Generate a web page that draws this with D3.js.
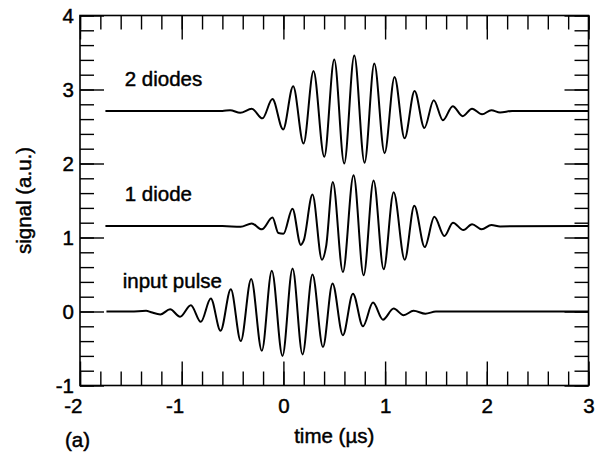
<!DOCTYPE html>
<html lang="en">
<head>
  <meta charset="UTF-8" />
  <title>signal vs time</title>
  <script src="https://d3js.org/d3.v7.min.js"></script>
  <style>
    body {
      margin: 0;
      background-color: #fff;
    }
    svg {
      display: block;
      font-family: "Liberation Sans", Arial, sans-serif;
    }
    svg text { stroke: #000; stroke-width: 0.45; }
    .axis path { display: none; }
    .axis line { stroke: #000; stroke-width: 1.4; }
    .axis text { font-size: 20.5px; fill: #000; font-family: "Liberation Sans", Arial, sans-serif; }
  </style>
</head>
<body>

<svg id="chart" width="600" height="454"></svg>

<script>
  // extrema: [time (µs), signal (a.u.)]
  const inputPulse = [
    [-1.74, 0], [-1.5, 0], [-1.35, 0.01], [-1.30, -0.01], [-1.21, -0.04],
    [-1.114, 0.03], [-1.016, -0.07], [-0.91, 0.085], [-0.812, -0.14],
    [-0.714, 0.175], [-0.618, -0.26], [-0.517, 0.30], [-0.419, -0.40],
    [-0.317, 0.44], [-0.212, -0.53], [-0.114, 0.55], [-0.009, -0.60],
    [0.09, 0.58], [0.188, -0.58], [0.286, 0.50], [0.389, -0.48],
    [0.483, 0.38], [0.585, -0.32], [0.684, 0.24], [0.782, -0.20],
    [0.881, 0.12], [0.979, -0.11], [1.084, 0.04], [1.182, -0.05],
    [1.28, 0.01], [1.396, -0.03], [1.5, 0], [3, 0]
  ];

  const oneDiode = [
    [-1.75, 1.155], [-0.6, 1.155], [-0.42, 1.145], [-0.311, 1.19], [-0.212, 1.11],
    [-0.107, 1.27], [-0.05, 1.06], [0.0, 1.05], [0.089, 1.39], [0.171, 0.90],
    [0.20, 0.96], [0.286, 1.58], [0.379, 0.70], [0.42, 0.88], [0.486, 1.75],
    [0.585, 0.535], [0.69, 1.84], [0.789, 0.49], [0.887, 1.77], [0.986, 0.57],
    [1.084, 1.61], [1.193, 0.70], [1.287, 1.43], [1.39, 0.87], [1.484, 1.28],
    [1.583, 1.02], [1.667, 1.20], [1.77, 1.10], [1.855, 1.18], [1.95, 1.11],
    [2.045, 1.17], [2.13, 1.15], [3, 1.155]
  ];

  const twoDiodes = [
    [-1.75, 2.71], [-0.6, 2.71], [-0.524, 2.72], [-0.425, 2.685], [-0.311, 2.74],
    [-0.206, 2.61], [-0.108, 2.87], [-0.003, 2.46], [0.096, 3.045], [0.198, 2.27],
    [0.296, 3.25], [0.402, 2.09], [0.50, 3.405], [0.598, 2.0], [0.697, 3.46],
    [0.798, 2.01], [0.894, 3.35], [0.995, 2.14], [1.093, 3.17], [1.192, 2.34],
    [1.29, 2.98], [1.386, 2.48], [1.478, 2.855], [1.569, 2.585], [1.665, 2.775],
    [1.763, 2.64], [1.855, 2.74], [1.953, 2.665], [2.045, 2.72], [2.13, 2.69],
    [2.25, 2.71], [3, 2.71]
  ];

  const curveLabels = ["2 diodes", "1 diode", "input pulse"];
  const labelPos = [[-1.56, 3.045], [-1.56, 1.50], [-1.58, 0.315]];

  const xMajor = [-2, -1, 0, 1, 2, 3];
  const yMajor = [-1, 0, 1, 2, 3, 4];
  const xMinor = d3.range(-2, 3.001, 0.2).map(d => +d.toFixed(1));
  const yMinor = d3.range(-1, 4.001, 0.2).map(d => +d.toFixed(1));

  const svg = d3.select("#chart");
  const width = +svg.attr("width");
  const height = +svg.attr("height");
  const margin = { top: 15.5, right: 11.5, bottom: 68.5, left: 80 };

  const x = d3.scaleLinear().domain([-2, 3]).range([margin.left, width - margin.right]);
  const y = d3.scaleLinear().domain([-1, 4]).range([height - margin.bottom, margin.top]);
  const plotW = width - margin.left - margin.right;
  const plotH = height - margin.top - margin.bottom;

  const tickFmt = d => d < 0 ? "-" + Math.abs(d) : String(d);

  // minor ticks, all four sides
  svg.append("g").attr("class", "axis")
    .attr("transform", `translate(0,${y(-1)})`)
    .call(d3.axisBottom(x).tickValues(xMinor).tickSize(-14).tickFormat(""));
  svg.append("g").attr("class", "axis")
    .attr("transform", `translate(0,${y(4)})`)
    .call(d3.axisTop(x).tickValues(xMinor).tickSize(-14).tickFormat(""));
  svg.append("g").attr("class", "axis")
    .attr("transform", `translate(${x(-2)},0)`)
    .call(d3.axisLeft(y).tickValues(yMinor).tickSize(-14).tickFormat(""));
  svg.append("g").attr("class", "axis")
    .attr("transform", `translate(${x(3)},0)`)
    .call(d3.axisRight(y).tickValues(yMinor).tickSize(-14).tickFormat(""));

  // major ticks with labels
  const xAxis = svg.append("g").attr("class", "axis")
    .attr("transform", `translate(0,${y(-1)})`)
    .call(d3.axisBottom(x).tickValues(xMajor).tickSize(-24).tickPadding(13).tickFormat(tickFmt));
  xAxis.selectAll("text")
    .attr("text-anchor", d => d < 0 ? "end" : "middle")
    .attr("dx", d => d < 0 ? 2 : 0);
  svg.append("g").attr("class", "axis")
    .attr("transform", `translate(0,${y(4)})`)
    .call(d3.axisTop(x).tickValues(xMajor).tickSize(-24).tickFormat(""));
  svg.append("g").attr("class", "axis")
    .attr("transform", `translate(${x(-2)},0)`)
    .call(d3.axisLeft(y).tickValues(yMajor).tickSize(-24).tickPadding(6).tickFormat(tickFmt))
    .selectAll("text").attr("dy", "0.32em");
  svg.append("g").attr("class", "axis")
    .attr("transform", `translate(${x(3)},0)`)
    .call(d3.axisRight(y).tickValues(yMajor).tickSize(-24).tickFormat(""));

  // frame
  svg.append("rect")
    .attr("x", margin.left)
    .attr("y", margin.top)
    .attr("width", plotW)
    .attr("height", plotH)
    .style("fill", "none")
    .style("stroke", "#000")
    .style("stroke-width", 1.6);

  const line = d3.line()
    .x(d => x(d[0]))
    .y(d => y(d[1]))
    .curve(d3.curveMonotoneX);

  svg.append("g")
    .selectAll("path")
    .data([twoDiodes, oneDiode, inputPulse])
    .enter().append("path")
    .attr("d", line)
    .style("fill", "none")
    .style("stroke", "#000")
    .style("stroke-width", 2)
    .style("stroke-linejoin", "round");

  svg.append("g")
    .selectAll("text")
    .data(curveLabels)
    .enter().append("text")
    .attr("x", (d, i) => x(labelPos[i][0]))
    .attr("y", (d, i) => y(labelPos[i][1]))
    .style("font-size", "20.5px")
    .text(d => d);

  // axis titles
  svg.append("text")
    .attr("x", x(0.5))
    .attr("y", 443)
    .attr("text-anchor", "middle")
    .style("font-size", "20.5px")
    .text("time (\u00b5s)");

  svg.append("text")
    .attr("transform", `translate(31,${y(1.5)}) rotate(-90)`)
    .attr("text-anchor", "middle")
    .style("font-size", "20.5px")
    .text("signal (a.u.)");

  svg.append("text")
    .attr("x", 65)
    .attr("y", 447)
    .style("font-size", "20.5px")
    .text("(a)");
</script>

</body>
</html>
